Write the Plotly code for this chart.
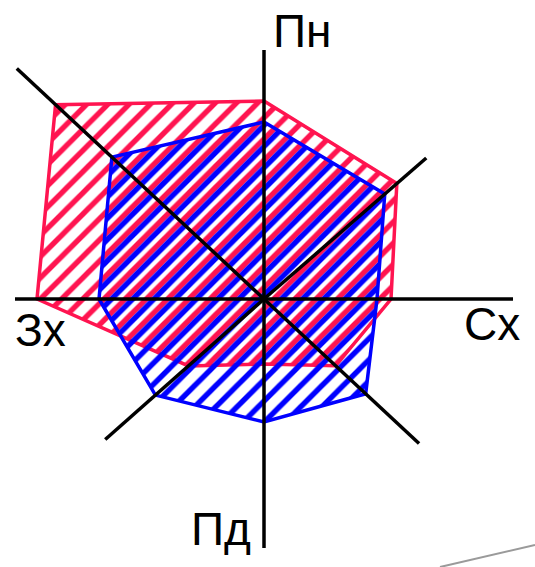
import numpy as np
import plotly.graph_objects as go

# directions of the star diagram (math angle, degrees) and ray lengths
directions = ["Пн", "ПнСх", "Сх", "ПдСх", "Пд", "ПдЗх", "Зх", "ПнЗх"]
angles = [90, 41, 0, -43, -90, 221.5, 180, 137]
axis_len = [249, 215, 249, 212, 249, 212, 249, 338]

# values of the two polygons along each direction
red_values = [198, 176, 127, 98, 65, 101, 227, 285]
blue_values = [177, 160, 113, 139, 123, 145, 165, 208]

labels = ["Пн", "Сх", "Зх", "Пд"]
label_x = [38, 228, -224, -43]
label_y = [268, -25, -31, -230]

RED = "#ff1450"
BLUE = "#0000ff"
HATCH = 15
W, H = 535, 567
SHIFT = HATCH / 2  # offset the second hatch by half a period


def to_xy(values):
    th = np.radians(angles)
    r = np.array(values, dtype=float)
    x = r * np.cos(th)
    y = r * np.sin(th)
    return np.append(x, x[0]), np.append(y, y[0])


def hatch(color):
    return dict(shape="/", fgcolor=color, fgopacity=1, bgcolor="rgba(0,0,0,0)",
                size=HATCH, solidity=0.36)


fig = go.Figure()

rx, ry = to_xy(red_values)
fig.add_trace(go.Scatter(
    x=rx, y=ry, mode="lines", fill="toself",
    fillcolor="rgba(0,0,0,0)", fillpattern=hatch(RED),
    line=dict(color=RED, width=3.5),
    xaxis="x", yaxis="y", hoverinfo="skip",
))

bx, by = to_xy(blue_values)
fig.add_trace(go.Scatter(
    x=bx, y=by, mode="lines", fill="toself",
    fillcolor="rgba(0,0,0,0)", fillpattern=hatch(BLUE),
    line=dict(color=BLUE, width=3.5),
    xaxis="x2", yaxis="y2", hoverinfo="skip",
))

# the rays of the diagram
for a, L in zip(angles, axis_len):
    t = np.radians(a)
    fig.add_trace(go.Scatter(
        x=[0, L * np.cos(t)], y=[0, L * np.sin(t)], mode="lines",
        line=dict(color="black", width=3.5),
        xaxis="x2", yaxis="y2", hoverinfo="skip",
    ))

for txt, lx, ly in zip(labels, label_x, label_y):
    fig.add_annotation(x=lx, y=ly, text=txt, showarrow=False, xref="x", yref="y",
                       font=dict(family="Liberation Sans, Arial", size=46, color="black"))

ax = dict(visible=False, showgrid=False, zeroline=False, fixedrange=True)
fig.update_layout(
    width=W, height=H,
    margin=dict(l=0, r=0, t=0, b=0),
    paper_bgcolor="white", plot_bgcolor="rgba(0,0,0,0)",
    showlegend=False,
    xaxis=dict(range=[-264, 271], domain=[0, 1], anchor="y", **ax),
    yaxis=dict(range=[-268, 299], domain=[0, 1], anchor="x", **ax),
    xaxis2=dict(range=[-264, 271], domain=[0, 1], anchor="y2", **ax),
    yaxis2=dict(range=[-268, 299 - SHIFT], domain=[0, 1 - SHIFT / H], anchor="x2", **ax),
    shapes=[dict(type="line", xref="paper", yref="paper",
                 x0=440 / W, y0=0, x1=1, y1=22 / H,
                 line=dict(color="#9a9a9a", width=2))],
)

fig.write_html("out.html", config={"displayModeBar": False},
               post_script="document.body.style.margin='0';")
